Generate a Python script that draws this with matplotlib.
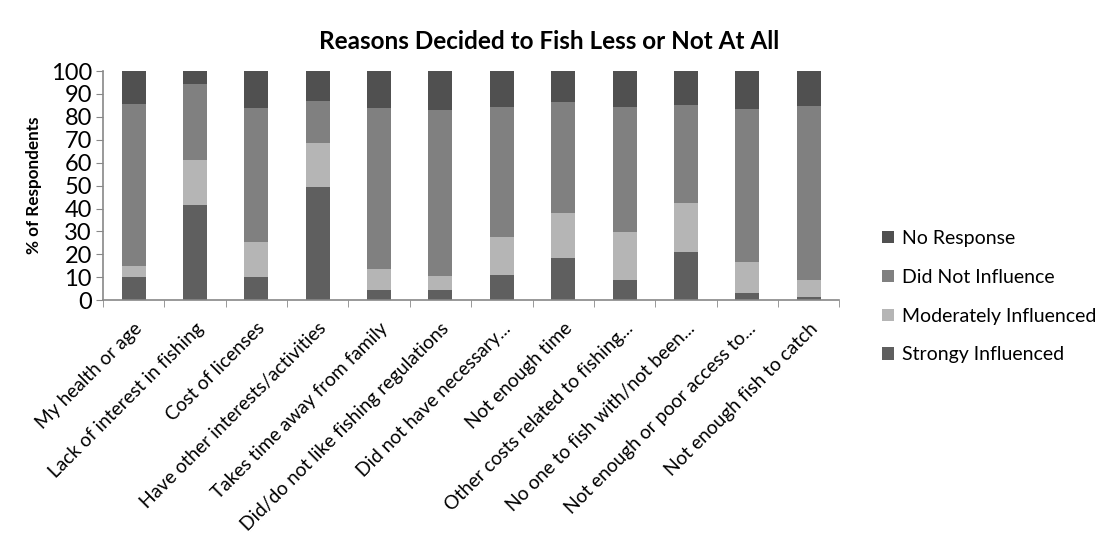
import matplotlib.pyplot as plt
import numpy as np

categories = ["My health or age", "Lack of interest in fishing", "Cost of licenses",
              "Have other interests/activities", "Takes time away from family",
              "Did/do not like fishing regulations", "Did not have necessary...",
              "Not enough time", "Other costs related to fishing...",
              "No one to fish with/not been...", "Not enough or poor access to...",
              "Not enough fish to catch"]

strongly = [10.0, 41.5, 10.0, 49.5, 4.5, 4.4, 11.1, 18.5, 9.0, 20.8, 3.3, 1.4]
moderately = [5.0, 19.7, 15.3, 19.1, 9.1, 6.0, 16.3, 19.4, 20.8, 21.6, 13.4, 7.6]
did_not = [70.6, 33.2, 58.4, 18.3, 70.2, 72.6, 57.0, 48.6, 54.3, 42.8, 66.7, 75.7]
no_response = [14.4, 5.6, 16.3, 13.1, 16.2, 17.0, 15.6, 13.5, 15.9, 14.8, 16.6, 15.3]

plt.rcParams['font.family'] = ['Lato', 'DejaVu Sans']

fig = plt.figure(figsize=(10.99, 5.36), dpi=100)
ax = fig.add_axes([0.0937, 0.44, 0.670, 0.4275])

x = np.arange(len(categories))
w = 0.39
s = np.array(strongly)
m = np.array(moderately)
d = np.array(did_not)
n = np.array(no_response)

b1 = ax.bar(x, s, w, color='#5f5f5f', label='Strongy Influenced')
b2 = ax.bar(x, m, w, bottom=s, color='#b5b5b5', label='Moderately Influenced')
b3 = ax.bar(x, d, w, bottom=s + m, color='#808080', label='Did Not Influence')
b4 = ax.bar(x, n, w, bottom=s + m + d, color='#505050', label='No Response')

ax.set_xlim(-0.5, len(categories) - 0.5)
ax.set_ylim(0, 100)
ax.set_yticks(range(0, 101, 10))
ax.tick_params(axis='y', labelsize=17, length=5, color='#888888', pad=3)

ax.set_xticks(x)
ax.set_xticklabels(categories, rotation=45, ha='right', rotation_mode='anchor', fontsize=13.8)
ax.set_xticks(np.arange(-0.5, len(categories), 1), minor=True)
ax.tick_params(axis='x', which='major', length=0, pad=14)
ax.tick_params(axis='x', which='minor', length=5, color='#888888')

for side in ['top', 'right']:
    ax.spines[side].set_visible(False)
for side in ['left', 'bottom']:
    ax.spines[side].set_color('#888888')
    ax.spines[side].set_linewidth(1.2)

ax.set_ylabel('% of Respondents', fontsize=12.3, fontweight='bold', labelpad=6)
fig.text(0.5, 0.922, 'Reasons Decided to Fish Less or Not At All', ha='center',
         va='center', fontsize=17.5, fontweight='bold')

ax.legend(handles=[b4, b3, b2, b1], loc='center left', bbox_to_anchor=(1.058, 0.015),
          frameon=False, fontsize=14, handlelength=0.6, handleheight=0.6,
          labelspacing=1.12, handletextpad=0.45, borderpad=0, borderaxespad=0)

fig.savefig('out.png', dpi=100)
